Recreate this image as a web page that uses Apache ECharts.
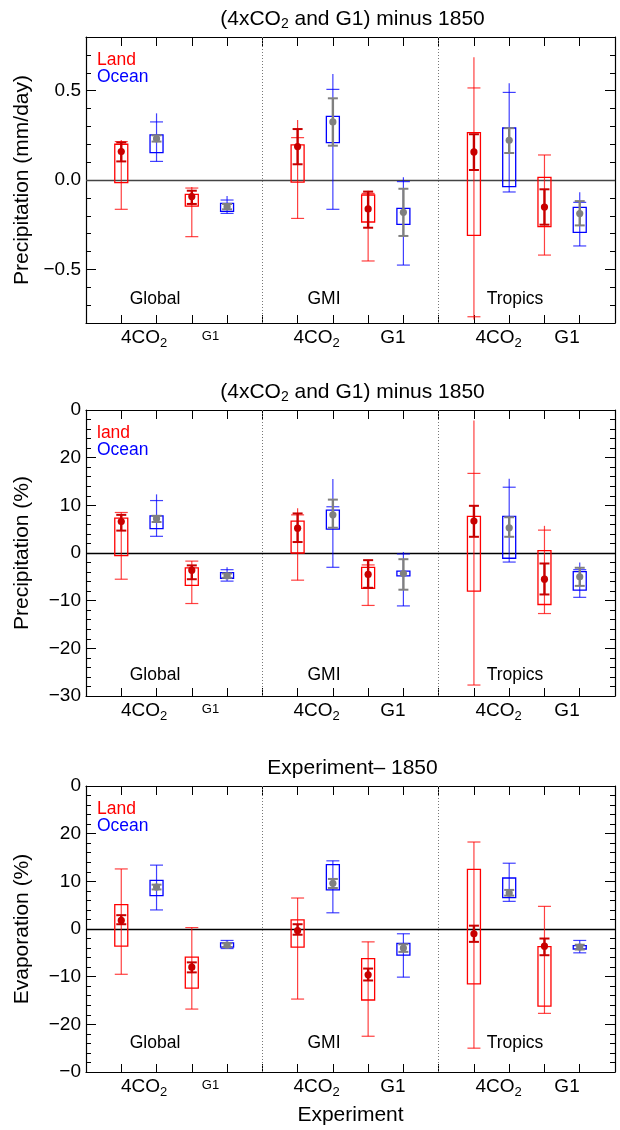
<!DOCTYPE html>
<html>
<head>
<meta charset="utf-8">
<script src="https://cdn.jsdelivr.net/npm/echarts@6/dist/echarts.min.js"></script>
<style>
html, body { margin: 0; padding: 0; background: #fff; }
#main { width: 620px; height: 1130px; }
</style>
</head>
<body>
<div id="main"></div>
<script>
// positions of the boxes: Land / Ocean for 4CO2 then G1, in Global, GMI, Tropics
var xPos = [1, 2, 3, 4, 6, 7, 8, 9, 11, 12, 13, 14];
var isOcean = [0, 1, 0, 1, 0, 1, 0, 1, 0, 1, 0, 1];
var expLabelPos = [1.65, 3.53, 6.54, 8.7, 11.7, 13.64];
var expLabels = ['4CO2', 'G1s', '4CO2', 'G1', '4CO2', 'G1'];
var dividers = [5, 10];

// panel 1: precipitation, mm/day
var p1BoxLo  = [-0.015, 0.153, -0.146, -0.175, -0.012, 0.209, -0.235, -0.248, -0.31, -0.037, -0.261, -0.293];
var p1BoxHi  = [0.20, 0.252, -0.080, -0.131, 0.196, 0.356, -0.084, -0.159, 0.265, 0.291, 0.015, -0.153];
var p1LineLo = [-0.164, 0.104, -0.317, -0.187, -0.215, -0.164, -0.453, -0.476, -0.78, -0.067, -0.42, -0.369];
var p1LineHi = [0.224, 0.373, -0.039, -0.09, 0.336, 0.593, -0.06, 0.015, 0.687, 0.541, 0.14, -0.069];
var p1CapLo  = [-0.164, 0.104, -0.317, -0.187, -0.215, -0.164, -0.453, -0.476, -0.765, -0.067, -0.42, -0.369];
var p1CapHi  = [0.215, 0.325, -0.045, -0.112, 0.237, 0.507, -0.075, -0.009, 0.515, 0.49, 0.14, -0.125];
var p1ErrLo  = [0.104, 0.215, -0.134, -0.164, 0.088, 0.192, -0.267, -0.313, 0.056, 0.151, -0.25, -0.254];
var p1ErrHi  = [0.21, 0.25, -0.06, -0.134, 0.285, 0.457, -0.065, -0.049, 0.256, 0.29, -0.052, -0.118];
var p1Mean   = [0.159, 0.231, -0.093, -0.149, 0.187, 0.325, -0.162, -0.181, 0.157, 0.222, -0.151, -0.188];

// panel 2: precipitation, %
var p2BoxLo  = [-0.56, 5.1, -6.8, -5.3, 0, 5.0, -7.4, -4.8, -8.0, -1.1, -10.8, -7.8];
var p2BoxHi  = [7.3, 7.8, -3.1, -4.1, 6.7, 9.0, -3.0, -3.8, 7.7, 7.7, 0.5, -3.9];
var p2LineLo = [-5.5, 3.5, -10.6, -5.9, -5.7, -3.0, -11.0, -11.1, -27.7, -1.9, -12.7, -9.3];
var p2LineHi = [8.5, 12.3, -1.7, -3.0, 9.4, 15.5, -1.4, 0.2, 27.8, 15.6, 5.7, -2.0];
var p2CapLo  = [-5.5, 3.5, -10.6, -5.9, -5.7, -3.0, -11.0, -11.1, -27.7, -1.9, -12.7, -9.3];
var p2CapHi  = [8.5, 11.0, -1.7, -3.5, 8.0, 9.7, -2.5, -0.2, 16.7, 13.8, 4.8, -3.5];
var p2ErrLo  = [4.7, 6.5, -5.5, -5.2, 2.3, 5.3, -7.3, -7.7, 3.4, 3.4, -8.7, -6.9];
var p2ErrHi  = [8.0, 7.8, -2.6, -4.3, 8.3, 11.2, -1.5, -1.3, 9.9, 7.5, -2.2, -3.1];
var p2Mean   = [6.6, 7.2, -3.6, -4.8, 5.2, 8.0, -4.5, -4.3, 6.7, 5.3, -5.5, -5.0];

// panel 3: evaporation, %
var p3BoxLo  = [-3.6, 7.0, -12.4, -3.8, -3.8, 8.2, -14.9, -5.5, -11.5, 6.6, -16.2, -4.2];
var p3BoxHi  = [5.1, 10.2, -5.9, -2.9, 1.9, 13.5, -6.2, -3.0, 12.5, 10.7, -3.7, -3.5];
var p3LineLo = [-9.5, 4.0, -16.8, -4.1, -14.7, 3.4, -22.5, -10.1, -25.0, 5.8, -17.7, -5.0];
var p3LineHi = [12.6, 13.4, 0.3, -2.4, 6.5, 14.3, -2.7, -1.0, 18.25, 13.8, 4.75, -2.4];
var p3CapLo  = [-9.5, 4.0, -16.8, -4.1, -14.7, 3.4, -22.5, -10.1, -25.0, 5.8, -17.7, -5.0];
var p3CapHi  = [12.6, 13.4, 0.3, -2.4, 6.5, 14.3, -2.7, -1.0, 18.25, 13.8, 4.75, -2.4];
var p3ErrLo  = [1.0, 8.3, -9.1, -3.8, -1.2, 8.6, -10.8, -4.8, -2.7, 7.0, -5.5, -4.3];
var p3ErrHi  = [2.9, 9.3, -7.0, -3.0, 1.0, 10.5, -8.3, -3.2, 0.7, 8.2, -2.0, -3.3];
var p3Mean   = [1.8, 8.8, -8.0, -3.4, -0.35, 9.6, -9.6, -4.0, -1.0, 7.55, -3.6, -3.8];

// y ticks and their printed text (the top/bottom labels are clipped in the original)
var p1TickVals = [-0.5, 0, 0.5];
var p1TickText = ['\u22120.5', '0.0', '0.5'];
var p2TickVals = [-30, -20, -10, 0, 10, 20, 30];
var p2TickText = ['\u221230', '\u221220', '\u221210', '0', '10', '20', '0'];
var p3TickVals = [-30, -20, -10, 0, 10, 20, 30];
var p3TickText = ['\u22120', '\u221220', '\u221210', '0', '10', '20', '0'];

var FONT = 'Liberation Sans, Arial, Helvetica, sans-serif';
var GL = 86, GW = 529, GH = 286;

var panels = [
    {top: 37, min: -0.8, max: 0.8, minor: 0.1, ticks: p1TickVals, text: p1TickText,
        name: 'Precipitation (mm/day)', zero: '#444', title: '(4xCO{s|2} and G1) minus 1850',
        land: 'Land', regionY: 299,
        d: [p1BoxLo, p1BoxHi, p1LineLo, p1LineHi, p1CapLo, p1CapHi, p1ErrLo, p1ErrHi, p1Mean]},
    {top: 410, min: -30, max: 30, minor: 2, ticks: p2TickVals, text: p2TickText,
        name: 'Precipitation (%)', zero: '#000', title: '(4xCO{s|2} and G1) minus 1850',
        land: 'land', regionY: 675,
        d: [p2BoxLo, p2BoxHi, p2LineLo, p2LineHi, p2CapLo, p2CapHi, p2ErrLo, p2ErrHi, p2Mean]},
    {top: 786, min: -30, max: 30, minor: 2, ticks: p3TickVals, text: p3TickText,
        name: 'Evaporation (%)', zero: '#000', title: 'Experiment\u2013 1850',
        land: 'Land', regionY: 1043,
        d: [p3BoxLo, p3BoxHi, p3LineLo, p3LineHi, p3CapLo, p3CapHi, p3ErrLo, p3ErrHi, p3Mean]}
];

function renderGlyph(params, api) {
    var x = api.value(0);
    var ocean = api.value(10) === 1;
    var col = ocean ? '#0000ff' : '#ff0000';
    var dark = ocean ? '#808080' : '#c80000';
    var px = api.coord([x, 0])[0];
    function y(k) { return api.coord([x, api.value(k)])[1]; }
    var whisk = {stroke: col, lineWidth: 1.2, opacity: 0.75};
    var kids = [];
    kids.push({type: 'line', shape: {x1: px, y1: y(3), x2: px, y2: y(4)}, style: whisk});
    [5, 6].forEach(function (k) {
        var yy = y(k);
        kids.push({type: 'line', shape: {x1: px - 6.5, y1: yy, x2: px + 6.5, y2: yy}, style: whisk});
    });
    var b1 = y(1), b2 = y(2);
    kids.push({type: 'rect', shape: {x: px - 6.5, y: Math.min(b1, b2), width: 13, height: Math.abs(b1 - b2)},
        style: {fill: 'none', stroke: col, lineWidth: 1.3}});
    var e1 = y(7), e2 = y(8);
    var err = {stroke: dark, lineWidth: 2.4};
    kids.push({type: 'line', shape: {x1: px, y1: e1, x2: px, y2: e2}, style: err});
    [e1, e2].forEach(function (yy) {
        kids.push({type: 'line', shape: {x1: px - 5, y1: yy, x2: px + 5, y2: yy}, style: {stroke: dark, lineWidth: 2}});
    });
    var m = y(9);
    kids.push({type: 'circle', shape: {cx: px, cy: m, r: 3.6}, style: {fill: dark}});
    return {type: 'group', children: kids};
}

function labelFmt(vals, text) {
    return function (v) {
        for (var i = 0; i < vals.length; i++) {
            if (Math.abs(vals[i] - v) < 1e-6) return text[i];
        }
        return '';
    };
}

var allTicks = [];
for (var t = 0; t <= 15; t++) allTicks.push(t);

var grids = [], xAxes = [], yAxes = [], series = [], graphics = [];

panels.forEach(function (p, pi) {
    var rect = {left: GL, top: p.top, width: GW, height: GH, containLabel: false, outerBoundsMode: 'none'};
    grids.push(Object.assign({}, rect), Object.assign({}, rect));
    var g0 = 2 * pi, g1 = 2 * pi + 1;
    var axLine = {show: true, onZero: false, lineStyle: {color: '#000', width: 1.2}};

    // bottom axis with experiment labels
    xAxes.push({
        type: 'value', gridIndex: g0, position: 'bottom', min: 0, max: 15,
        axisLine: axLine, splitLine: {show: false},
        axisTick: {inside: true, length: 8, customValues: allTicks, lineStyle: {color: '#000', width: 1}},
        axisLabel: {
            customValues: expLabelPos, margin: 4, color: '#000', fontFamily: FONT,
            formatter: function (v) {
                var i = expLabelPos.indexOf(v);
                var s = expLabels[i];
                if (s === '4CO2') return '{n|4CO}{s|2}';
                if (s === 'G1s') return '{m|G1}';
                return '{n|G1}';
            },
            rich: {
                n: {fontSize: 19, fontFamily: FONT, color: '#000', lineHeight: 22},
                s: {fontSize: 13, fontFamily: FONT, color: '#000', lineHeight: 22, padding: [11, 0, 0, 0]},
                m: {fontSize: 13, fontFamily: FONT, color: '#000', lineHeight: 22, padding: [0, 0, 4, 0]}
            }
        },
        name: pi === 2 ? 'Experiment' : '', nameLocation: 'middle', nameGap: 33,
        nameTextStyle: {fontSize: 21, fontFamily: FONT, color: '#000'}
    });
    // top axis ticks
    xAxes.push({
        type: 'value', gridIndex: g0, position: 'top', min: 0, max: 15,
        axisLine: axLine, splitLine: {show: false}, axisLabel: {show: false},
        axisTick: {inside: true, length: 9, customValues: allTicks, lineStyle: {color: '#000', width: 1}}
    });
    // hidden x for overlay grid
    xAxes.push({type: 'value', gridIndex: g1, min: 0, max: 15, show: false, axisLine: {onZero: false}});

    // minor y ticks, left and right
    ['left', 'right'].forEach(function (side) {
        yAxes.push({
            type: 'value', gridIndex: g0, position: side, min: p.min, max: p.max, interval: p.minor,
            axisLine: axLine, splitLine: {show: false}, axisLabel: {show: false},
            axisTick: {inside: true, length: 5, lineStyle: {color: '#000', width: 1}}
        });
    });
    // major y ticks + labels, left and right
    ['left', 'right'].forEach(function (side) {
        yAxes.push({
            type: 'value', gridIndex: g1, position: side, min: p.min, max: p.max,
            axisLine: {show: false, onZero: false}, splitLine: {show: false},
            axisTick: {inside: true, length: 10, customValues: p.ticks, lineStyle: {color: '#000', width: 1}},
            axisLabel: {
                show: side === 'left', customValues: p.ticks, margin: 5,
                fontSize: 19, fontFamily: FONT, color: '#000',
                formatter: labelFmt(p.ticks, p.text)
            },
            name: side === 'left' ? p.name : '', nameLocation: 'middle', nameGap: 53,
            nameTextStyle: {fontSize: 21, fontFamily: FONT, color: '#000'}
        });
    });

    var rows = xPos.map(function (x, i) {
        return [x, p.d[0][i], p.d[1][i], p.d[2][i], p.d[3][i], p.d[4][i], p.d[5][i],
            p.d[6][i], p.d[7][i], p.d[8][i], isOcean[i]];
    });
    series.push({
        type: 'custom', xAxisIndex: 3 * pi, yAxisIndex: 4 * pi,
        renderItem: renderGlyph, data: rows, silent: true, clip: true, z: 5,
        markLine: {
            silent: true, symbol: ['none', 'none'], label: {show: false}, animation: false,
            data: [
                {yAxis: 0, lineStyle: {color: p.zero, width: 1.3, type: 'solid'}}
            ].concat(dividers.map(function (dv) {
                return {xAxis: dv, lineStyle: {color: '#777', width: 1, type: [1, 2]}};
            }))
        }
    });

    // titles, legend and region names
    graphics.push({
        type: 'text', x: GL + GW / 2 + 2, y: p.top - 18,
        style: {text: p.title, align: 'center', verticalAlign: 'middle', fontSize: 21, fontFamily: FONT, fill: '#000',
            rich: {s: {fontSize: 14, fontFamily: FONT, padding: [11, 0, 0, 0]}}}
    });
    graphics.push({type: 'text', x: 97, y: p.top + 23, style: {text: p.land, verticalAlign: 'middle', fontSize: 17.5, fontFamily: FONT, fill: '#ff0000'}});
    graphics.push({type: 'text', x: 97, y: p.top + 40, style: {text: 'Ocean', verticalAlign: 'middle', fontSize: 17.5, fontFamily: FONT, fill: '#0000ff'}});
    [['Global', 155], ['GMI', 324], ['Tropics', 515]].forEach(function (r) {
        graphics.push({type: 'text', x: r[1], y: p.regionY, style: {text: r[0], align: 'center', verticalAlign: 'middle', fontSize: 17.5, fontFamily: FONT, fill: '#000'}});
    });
});

var chart = echarts.init(document.getElementById('main'), null, {renderer: 'canvas'});
chart.setOption({
    animation: false,
    backgroundColor: '#fff',
    grid: grids,
    xAxis: xAxes,
    yAxis: yAxes,
    series: series,
    graphic: graphics
});
</script>
</body>
</html>
